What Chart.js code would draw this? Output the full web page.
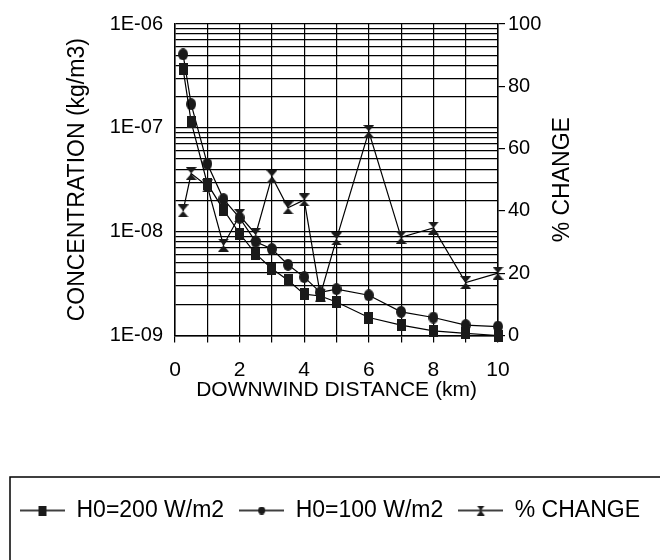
<!DOCTYPE html>
<html>
<head>
<meta charset="utf-8">
<script src="https://cdn.jsdelivr.net/npm/chart.js@4/dist/chart.umd.min.js"></script>
<style>
  body { margin: 0; background: #fff; }
  #wrap { width: 660px; height: 560px; position: relative; }
</style>
</head>
<body>
<div id="wrap"><canvas id="chart"></canvas></div>
<script>
// values
var distances = [0.25, 0.5, 1, 1.5, 2, 2.5, 3, 3.5, 4, 4.5, 5, 6, 7, 8, 9, 10];
var conc200 = [3.7e-7, 1.14e-7, 2.9e-8, 1.63e-8, 9.6e-9, 6.1e-9, 4.4e-9, 3.4e-9, 2.5e-9, 2.4e-9, 2.1e-9, 1.49e-9, 1.26e-9, 1.11e-9, 1.05e-9, 1.0e-9];
var conc100 = [5.1e-7, 1.69e-7, 4.5e-8, 2.06e-8, 1.36e-8, 8.0e-9, 6.8e-9, 4.8e-9, 3.65e-9, 2.6e-9, 2.8e-9, 2.44e-9, 1.69e-9, 1.49e-9, 1.26e-9, 1.22e-9];
var pctChange = [40, 52, 48, 29, 38.5, 32.5, 51, 41, 43.5, 13, 31, 65.5, 31.5, 34.5, 17, 20];

var seriesNames = ['H0=200 W/m2', 'H0=100 W/m2', '% CHANGE'];
var concDecades = [1e-9, 1e-8, 1e-7, 1e-6];
var concLabels = ['1E-09', '1E-08', '1E-07', '1E-06'];
var pctTicks = [0, 20, 40, 60, 80, 100];
var xLabelled = [0, 2, 4, 6, 8, 10];

var xTitle = 'DOWNWIND DISTANCE (km)';
var leftTitle = 'CONCENTRATION (kg/m3)';
var rightTitle = '% CHANGE';

var FONT = "'Liberation Sans', Arial, sans-serif";
Chart.defaults.font.family = FONT;
Chart.defaults.color = '#000';

// 标记图形
function makeMarker(kind, w, h, lineLen) {
    var total = lineLen || w;
    var c = document.createElement('canvas');
    c.width = total;
    c.height = h;
    var g = c.getContext('2d');
    if (lineLen) {
        g.strokeStyle = '#000';
        g.lineWidth = 1.5;
        g.beginPath();
        g.moveTo(0, h / 2);
        g.lineTo(total, h / 2);
        g.stroke();
    }
    var x0 = (total - w) / 2;
    g.fillStyle = '#1a1a1a';
    g.beginPath();
    if (kind === 'square') {
        g.rect(x0, 0, w, h);
    } else if (kind === 'circle') {
        g.ellipse(x0 + w / 2, h / 2, w / 2, h / 2, 0, 0, Math.PI * 2);
    } else {
        g.moveTo(x0, 0);
        g.lineTo(x0 + w, 0);
        g.lineTo(x0 + w / 2, h / 2);
        g.lineTo(x0 + w, h);
        g.lineTo(x0, h);
        g.lineTo(x0 + w / 2, h / 2);
        g.closePath();
    }
    g.fill();
    return c;
}

var pointIcons = [makeMarker('square', 9, 12), makeMarker('circle', 10, 12), makeMarker('hourglass', 11, 13)];
var legendIcons = [makeMarker('square', 8, 10, 45), makeMarker('circle', 7, 8, 45), makeMarker('hourglass', 8, 10, 45)];

function toPoints(ys) {
    return distances.map(function(d, i) { return { x: d, y: ys[i] }; });
}

function lineSet(i, ys, axis) {
    return {
        label: seriesNames[i],
        data: toPoints(ys),
        yAxisID: axis,
        borderColor: '#000',
        borderWidth: 1.2,
        pointStyle: pointIcons[i],
        pointRadius: 5,
        tension: 0,
        clip: false,
    };
}

// 图例框和右侧标题
var extras = {
    id: 'extras',
    afterDraw: function(chart) {
        var ctx = chart.ctx;
        var area = chart.chartArea;
        ctx.save();
        ctx.font = '23px ' + FONT;
        ctx.fillStyle = '#000';
        ctx.textAlign = 'center';
        ctx.textBaseline = 'middle';
        ctx.translate(area.right + 65, (area.top + area.bottom) / 2);
        ctx.rotate(-Math.PI / 2);
        ctx.fillText(rightTitle, 0, 0);
        ctx.restore();

        ctx.save();
        ctx.strokeStyle = '#000';
        ctx.lineWidth = 1.5;
        ctx.beginPath();
        ctx.moveTo(10, chart.height);
        ctx.lineTo(10, 477);
        ctx.lineTo(chart.width, 477);
        ctx.stroke();
        ctx.restore();
    }
};

new Chart(document.getElementById('chart').getContext('2d'), {
    type: 'line',
    data: {
        datasets: [
            lineSet(0, conc200, 'y'),
            lineSet(1, conc100, 'y'),
            lineSet(2, pctChange, 'y1'),
        ],
    },
    options: {
        responsive: true,
        maintainAspectRatio: false,
        animation: false,
        layout: { padding: { top: 20, left: 0, right: 0, bottom: 28 } },
        plugins: {
            tooltip: { enabled: false },
            legend: {
                position: 'bottom',
                labels: {
                    usePointStyle: true,
                    pointStyleWidth: 45,
                    padding: 15,
                    color: '#000',
                    font: { size: 23 },
                    generateLabels: function(chart) {
                        return chart.data.datasets.map(function(ds, i) {
                            return {
                                text: ds.label,
                                pointStyle: legendIcons[i],
                                fillStyle: '#000',
                                strokeStyle: '#000',
                                lineWidth: 0,
                                hidden: false,
                                datasetIndex: i,
                            };
                        });
                    },
                },
            },
        },
        scales: {
            x: {
                type: 'linear',
                min: 0,
                max: 10,
                afterFit: function(scale) { scale.height = 148.5; },
                ticks: {
                    stepSize: 1,
                    autoSkip: false,
                    maxRotation: 0,
                    padding: 17,
                    font: { size: 21, lineHeight: 1 },
                    callback: function(v) {
                        return xLabelled.indexOf(v) >= 0 ? String(v) : '';
                    },
                },
                grid: { color: '#000', lineWidth: 1.2, tickLength: 7 },
                border: { color: '#000', width: 1.5 },
                title: {
                    display: true,
                    text: xTitle,
                    font: { size: 21, lineHeight: 1 },
                    padding: { top: 0, bottom: 83 },
                },
            },
            y: {
                type: 'logarithmic',
                position: 'left',
                min: concDecades[0],
                max: concDecades[concDecades.length - 1],
                afterBuildTicks: function(scale) {
                    var ticks = [];
                    for (var d = 0; d < concDecades.length - 1; d++) {
                        for (var m = 1; m < 10; m++) {
                            ticks.push({ value: m * concDecades[d] });
                        }
                    }
                    ticks.push({ value: concDecades[concDecades.length - 1] });
                    scale.ticks = ticks;
                },
                afterFit: function(scale) { scale.width = 175; },
                ticks: {
                    autoSkip: false,
                    padding: 12,
                    font: { size: 20 },
                    callback: function(v) {
                        for (var i = 0; i < concDecades.length; i++) {
                            if (Math.abs(v / concDecades[i] - 1) < 1e-6) return concLabels[i];
                        }
                        return '';
                    },
                },
                grid: { color: '#000', lineWidth: 1.2, drawTicks: false },
                border: { color: '#000', width: 1.5 },
                title: {
                    display: true,
                    text: leftTitle,
                    font: { size: 23 },
                    padding: { top: 64, bottom: 0 },
                },
            },
            y1: {
                type: 'linear',
                position: 'right',
                min: 0,
                max: 100,
                afterBuildTicks: function(scale) {
                    scale.ticks = pctTicks.map(function(v) { return { value: v }; });
                },
                afterFit: function(scale) { scale.width = 162; },
                ticks: { padding: 3, font: { size: 20 }, autoSkip: false },
                grid: { drawOnChartArea: false, color: '#000', lineWidth: 1.2, tickLength: 7 },
                border: { color: '#000', width: 1.5 },
            },
        },
    },
    plugins: [extras],
});
</script>
</body>
</html>
